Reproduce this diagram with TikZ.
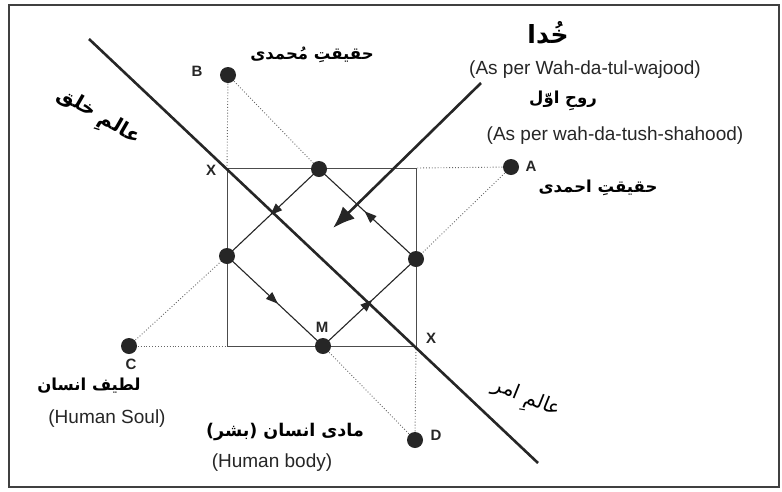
\documentclass[tikz,border=0pt]{standalone}
\usepackage{fontspec}
\setmainfont{Liberation Sans}
\newfontfamily\urdu[Script=Arabic]{DejaVu Sans}
\TeXXeTstate=1
\usetikzlibrary{arrows.meta,decorations.markings}
\pgfdeclarelayer{bg}
\pgfsetlayers{bg,main}
\tikzset{
  dot/.style={circle,fill=black!85,inner sep=0pt,minimum size=16pt},
  frame/.style={draw=black!75,line width=1.5pt},
  sqline/.style={draw=black!70,line width=1pt},
  dotline/.style={draw=black!60,line width=0.9pt,dotted},
  diamline/.style={draw=black!85,line width=1.1pt,
    postaction={decorate},
    decoration={markings,mark=at position 0.53 with {\arrow{Triangle[length=12pt,width=9pt]}}}},
  thickline/.style={draw=black!85,line width=2.6pt},
  bigarrow/.style={draw=black!85,line width=2.6pt,-{Latex[length=22pt,width=17pt]}},
  lbl/.style={font=\fontsize{15}{17}\selectfont\bfseries,text=black!85,inner sep=1pt},
  eng/.style={font=\fontsize{19}{22}\selectfont,text=black!85,inner sep=1pt},
  ur/.style={font=\urdu\bfseries\fontsize{16.5}{20}\selectfont,text=black,inner sep=1pt},
}
\begin{document}
\begin{tikzpicture}[x=1pt,y=-1pt]
\useasboundingbox (0,0) rectangle (782,491);
\begin{pgfonlayer}{bg}
\fill[white] (0,0) rectangle (782,491);
\end{pgfonlayer}
\draw[frame] (9,5) rectangle (779,487);

% square corners
\coordinate (q1) at (227,168);
\coordinate (q2) at (416,168);
\coordinate (q3) at (416,346);
\coordinate (q4) at (227,346);
% dots
\node[dot] (B) at (228,75) {};
\node[dot] (A) at (511,167) {};
\node[dot] (C) at (129,346) {};
\node[dot] (D) at (415,440) {};
\node[dot] (T) at (319,169) {};
\node[dot] (L) at (227,256) {};
\node[dot] (R) at (416,259) {};
\node[dot] (M) at (323,346) {};

\begin{pgfonlayer}{bg}
\draw[sqline] (q1) rectangle (q3);
\draw[dotline] (B.center) -- (q1);
\draw[dotline] (B.center) -- (T.center);
\draw[dotline] (A.center) -- (q2);
\draw[dotline] (A.center) -- (R.center);
\draw[dotline] (C.center) -- (q4);
\draw[dotline] (C.center) -- (L.center);
\draw[dotline] (D.center) -- (q3);
\draw[dotline] (D.center) -- (M.center);
\draw[diamline] (T.center) -- (L.center);
\draw[diamline] (L.center) -- (M.center);
\draw[diamline] (M.center) -- (R.center);
\draw[diamline] (R.center) -- (T.center);
\end{pgfonlayer}

\coordinate (l1) at (89,39);
\coordinate (l2) at (538,463);
\draw[thickline] (l1) -- (l2);
\coordinate (a1) at (481,83);
\coordinate (a2) at (333,228);
\draw[bigarrow] (a1) -- (a2);

% letter labels
\node[lbl] (lB) at (197,71) {B};
\node[lbl] (lA) at (531,166) {A};
\node[lbl] (lC) at (131,364) {C};
\node[lbl] (lD) at (436,435) {D};
\node[lbl] (lM) at (322,327) {M};
\node[lbl] (lX1) at (211,170) {X};
\node[lbl] (lX2) at (431,338) {X};

% texts
\node[ur,font=\urdu\bfseries\fontsize{25}{30}\selectfont] (khuda) at (548,33) {\beginR خُدا\endR};
\node[eng] (e1) at (585,70) {(As per Wah-da-tul-wajood)};
\node[ur] (ruh) at (563,101) {\beginR روحِ اوّل\endR};
\node[eng] (e2) at (615,136) {(As per wah-da-tush-shahood)};
\node[ur] (ahmadi) at (598,188) {\beginR حقیقتِ احمدی\endR};
\node[ur] (muhammadi) at (312,55) {\beginR حقیقتِ مُحمدی\endR};
\node[ur,font=\urdu\bfseries\fontsize{20}{24}\selectfont,rotate=-30] (khalq) at (98,118) {\beginR عالمِ خلق\endR};
\node[ur,font=\urdu\fontsize{20}{24}\selectfont,rotate=-22] (amr) at (526,400) {\beginR عالمِ امر\endR};
\node[ur] (latif) at (89,386) {\beginR لطیف انسان\endR};
\node[eng] (e3) at (107,419) {(Human Soul)};
\node[ur,font=\urdu\bfseries\fontsize{17.5}{21}\selectfont] (maadi) at (285,432) {\beginR مادی انسان (بشر)\endR};
\node[eng] (e4) at (272,463) {(Human body)};
\end{tikzpicture}
\end{document}
